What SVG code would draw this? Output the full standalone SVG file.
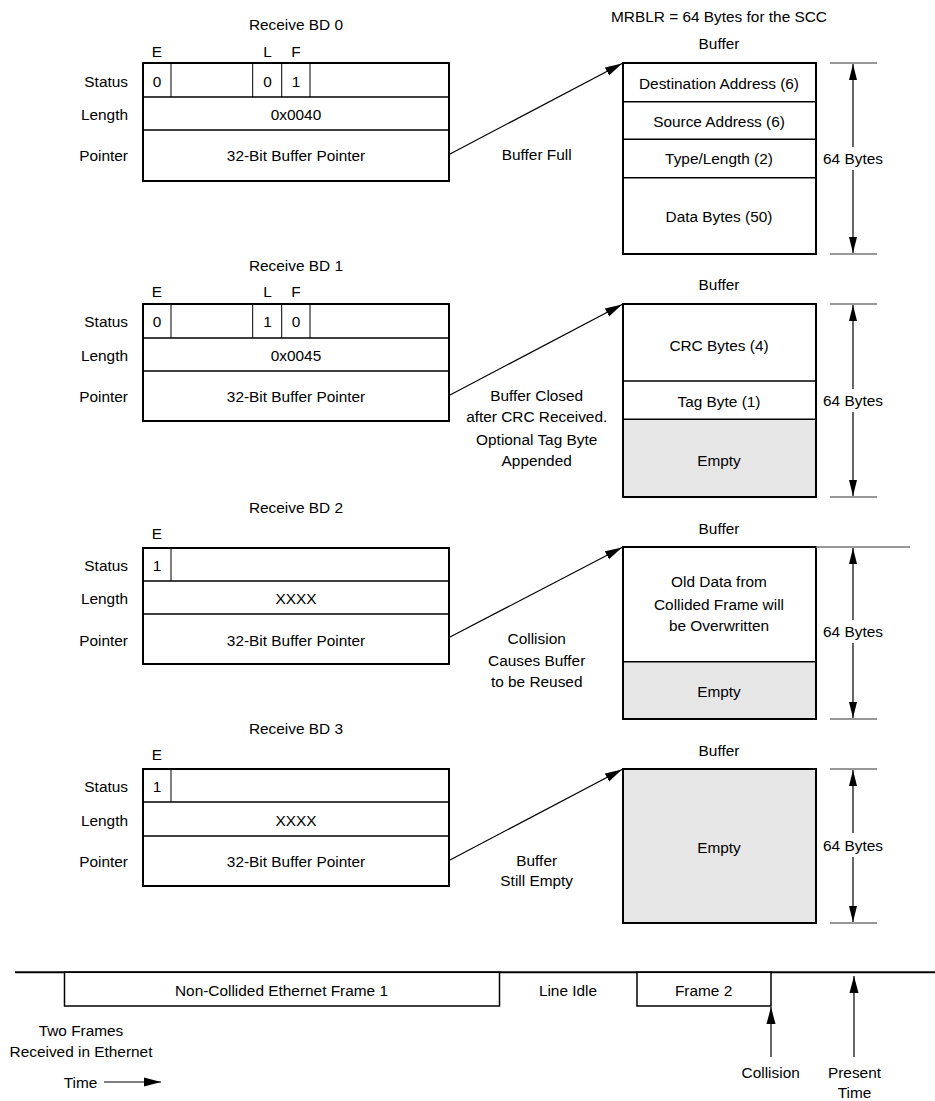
<svg xmlns="http://www.w3.org/2000/svg" width="935" height="1101" viewBox="0 0 935 1101">
<defs>
<style>
text{font-family:"Liberation Sans",Arial,sans-serif;font-size:15.4px;fill:#000}
.c{text-anchor:middle}
.e{text-anchor:end}
.box{fill:#fff;stroke:#000;stroke-width:2}
.row{stroke:#000;stroke-width:1.4;fill:none}
.cell{stroke:#000;stroke-width:1;fill:none}
.gray{fill:#e6e6e6;stroke:none}
.ext{stroke:#777;stroke-width:1.3;fill:none}
.dim{stroke:#000;stroke-width:1.2;fill:none;marker-end:url(#dh)}
.con{stroke:#000;stroke-width:1.2;fill:none;marker-end:url(#ah)}
</style>
<marker id="ah" markerUnits="userSpaceOnUse" markerWidth="18" markerHeight="10" refX="17" refY="5" orient="auto"><path d="M0,0.5 L17,5 L0,9.5 Z" fill="#000"/></marker>
<marker id="dh" markerUnits="userSpaceOnUse" markerWidth="17" markerHeight="9" refX="16" refY="4.5" orient="auto"><path d="M0,0.5 L16,4.5 L0,8.5 Z" fill="#000"/></marker>
</defs>
<rect width="935" height="1101" fill="#fff"/>

<text class="c" x="719" y="22">MRBLR = 64 Bytes for the SCC</text>

<!-- Receive BD 0 -->
<g id="bd0">
<text class="c" x="296" y="29.8">Receive BD 0</text>
<text class="c" x="157" y="57">E</text>
<text class="c" x="267.5" y="57">L</text>
<text class="c" x="296" y="57">F</text>
<text class="e" x="128" y="86.5">Status</text>
<text class="e" x="128" y="119.5">Length</text>
<text class="e" x="128" y="160.5">Pointer</text>
<rect class="box" x="143" y="63" width="306" height="118"/>
<line class="row" x1="143" y1="97" x2="449" y2="97"/>
<line class="row" x1="143" y1="130" x2="449" y2="130"/>
<path class="cell" d="M171,63V97M252.7,63V97M281.7,63V97M310,63V97"/>
<text class="c" x="157" y="86.5">0</text>
<text class="c" x="267.5" y="86.5">0</text>
<text class="c" x="296" y="86.5">1</text>
<text class="c" x="296" y="119.5">0x0040</text>
<text class="c" x="296" y="160.5">32-Bit Buffer Pointer</text>
</g>

<g id="buf0">
<text class="c" x="719" y="48.5">Buffer</text>
<rect class="box" x="623" y="63" width="193" height="191"/>
<line class="row" x1="623" y1="101.7" x2="816" y2="101.7"/>
<line class="row" x1="623" y1="139.3" x2="816" y2="139.3"/>
<line class="row" x1="623" y1="177.7" x2="816" y2="177.7"/>
<text class="c" x="719" y="88.8">Destination Address (6)</text>
<text class="c" x="719" y="127.2">Source Address (6)</text>
<text class="c" x="719" y="163.8">Type/Length (2)</text>
<text class="c" x="719" y="222.2">Data Bytes (50)</text>
<path class="ext" d="M830,63H877M830,254H877"/>
<line class="dim" x1="853" y1="147" x2="853" y2="64"/>
<line class="dim" x1="853" y1="170" x2="853" y2="253"/>
<text class="c" x="853" y="163.5">64 Bytes</text>
</g>

<!-- Receive BD 1 -->
<g id="bd1">
<text class="c" x="296" y="270.5">Receive BD 1</text>
<text class="c" x="157" y="297">E</text>
<text class="c" x="267.5" y="297">L</text>
<text class="c" x="296" y="297">F</text>
<text class="e" x="128" y="327">Status</text>
<text class="e" x="128" y="360.5">Length</text>
<text class="e" x="128" y="402">Pointer</text>
<rect class="box" x="143" y="304" width="306" height="117"/>
<line class="row" x1="143" y1="338" x2="449" y2="338"/>
<line class="row" x1="143" y1="371" x2="449" y2="371"/>
<path class="cell" d="M171,304V338M252.7,304V338M281.7,304V338M310,304V338"/>
<text class="c" x="157" y="327">0</text>
<text class="c" x="267.5" y="327">1</text>
<text class="c" x="296" y="327">0</text>
<text class="c" x="296" y="360.5">0x0045</text>
<text class="c" x="296" y="402">32-Bit Buffer Pointer</text>
</g>

<g id="buf1">
<text class="c" x="719" y="289.5">Buffer</text>
<rect class="box" x="623" y="304" width="193" height="193"/>
<rect class="gray" x="624" y="419.3" width="191" height="76.7"/>
<line class="row" x1="623" y1="381" x2="816" y2="381"/>
<line class="row" x1="623" y1="419.3" x2="816" y2="419.3"/>
<text class="c" x="719" y="350.5">CRC Bytes (4)</text>
<text class="c" x="719" y="407.2">Tag Byte (1)</text>
<text class="c" x="719" y="465.5">Empty</text>
<path class="ext" d="M830,304H877M830,497H877"/>
<line class="dim" x1="853" y1="389" x2="853" y2="305"/>
<line class="dim" x1="853" y1="412" x2="853" y2="496"/>
<text class="c" x="853" y="405.5">64 Bytes</text>
</g>

<!-- Receive BD 2 -->
<g id="bd2">
<text class="c" x="296" y="512.8">Receive BD 2</text>
<text class="c" x="157" y="538.5">E</text>
<text class="e" x="128" y="570.5">Status</text>
<text class="e" x="128" y="603.5">Length</text>
<text class="e" x="128" y="646">Pointer</text>
<rect class="box" x="143" y="548" width="306" height="116"/>
<line class="row" x1="143" y1="581" x2="449" y2="581"/>
<line class="row" x1="143" y1="614" x2="449" y2="614"/>
<path class="cell" d="M171,548V581"/>
<text class="c" x="157" y="570.5">1</text>
<text class="c" x="296" y="603.5">XXXX</text>
<text class="c" x="296" y="646">32-Bit Buffer Pointer</text>
</g>

<g id="buf2">
<text class="c" x="719" y="533.5">Buffer</text>
<rect class="box" x="623" y="547" width="193" height="172"/>
<rect class="gray" x="624" y="661.7" width="191" height="56.3"/>
<line class="row" x1="623" y1="661.7" x2="816" y2="661.7"/>
<text class="c" x="719" y="587.2">Old Data from</text>
<text class="c" x="719" y="609.5">Collided Frame will</text>
<text class="c" x="719" y="630.5">be Overwritten</text>
<text class="c" x="719" y="697.2">Empty</text>
<path class="ext" d="M816,547H910M830,719H877"/>
<line class="dim" x1="853" y1="620" x2="853" y2="548"/>
<line class="dim" x1="853" y1="643" x2="853" y2="718"/>
<text class="c" x="853" y="637.2">64 Bytes</text>
</g>

<!-- Receive BD 3 -->
<g id="bd3">
<text class="c" x="296" y="734">Receive BD 3</text>
<text class="c" x="157" y="760">E</text>
<text class="e" x="128" y="791.5">Status</text>
<text class="e" x="128" y="825.5">Length</text>
<text class="e" x="128" y="866.5">Pointer</text>
<rect class="box" x="143" y="769" width="306" height="117"/>
<line class="row" x1="143" y1="802" x2="449" y2="802"/>
<line class="row" x1="143" y1="836" x2="449" y2="836"/>
<path class="cell" d="M171,769V802"/>
<text class="c" x="157" y="791.5">1</text>
<text class="c" x="296" y="825.5">XXXX</text>
<text class="c" x="296" y="866.5">32-Bit Buffer Pointer</text>
</g>

<g id="buf3">
<text class="c" x="719" y="755.5">Buffer</text>
<rect class="box" x="623" y="769" width="193" height="154" style="fill:#e6e6e6"/>
<text class="c" x="719" y="852.5">Empty</text>
<path class="ext" d="M830,769H877M830,923H877"/>
<line class="dim" x1="853" y1="833" x2="853" y2="770"/>
<line class="dim" x1="853" y1="857" x2="853" y2="922"/>
<text class="c" x="853" y="850.5">64 Bytes</text>
</g>

<!-- Connectors -->
<g id="connectors">
<line class="con" x1="450" y1="154" x2="622" y2="63.5"/>
<line class="con" x1="450" y1="395" x2="622" y2="304.5"/>
<line class="con" x1="450" y1="637" x2="622" y2="547.5"/>
<line class="con" x1="450" y1="860" x2="622" y2="769.5"/>
<line class="con" x1="771" y1="1057" x2="771" y2="1007"/>
<line class="con" x1="854" y1="1057" x2="854" y2="976"/>
<line class="con" x1="104" y1="1082" x2="161" y2="1082"/>
</g>

<g id="labels">
<text class="c" x="536.7" y="159.5">Buffer Full</text>
<text class="c" x="536.7" y="401.2">Buffer Closed</text>
<text class="c" x="536.7" y="422.2">after CRC Received.</text>
<text class="c" x="536.7" y="444.5">Optional Tag Byte</text>
<text class="c" x="536.7" y="465.5">Appended</text>
<text class="c" x="536.7" y="643.5">Collision</text>
<text class="c" x="536.7" y="665.5">Causes Buffer</text>
<text class="c" x="536.7" y="686.5">to be Reused</text>
<text class="c" x="536.7" y="865.5">Buffer</text>
<text class="c" x="536.7" y="886.2">Still Empty</text>
</g>

<!-- Timeline -->
<g id="timeline">
<line x1="15" y1="972.3" x2="935" y2="972.3" stroke="#000" stroke-width="2"/>
<rect x="64.5" y="972.3" width="435" height="33.7" fill="#fff" stroke="#000" stroke-width="1.5"/>
<text class="c" x="281.5" y="996.2">Non-Collided Ethernet Frame 1</text>
<text class="c" x="568" y="995.5">Line Idle</text>
<rect x="637" y="972.3" width="134" height="33.7" fill="#fff" stroke="#000" stroke-width="1.5"/>
<text class="c" x="703.6" y="995.5">Frame 2</text>
<text class="c" x="81" y="1035.5">Two Frames</text>
<text class="c" x="81" y="1057.2">Received in Ethernet</text>
<text class="c" x="80.5" y="1088.2">Time</text>
<text class="c" x="770.7" y="1078.2">Collision</text>
<text class="c" x="854.5" y="1077.5">Present</text>
<text class="c" x="854.5" y="1098.2">Time</text>
</g>
</svg>
